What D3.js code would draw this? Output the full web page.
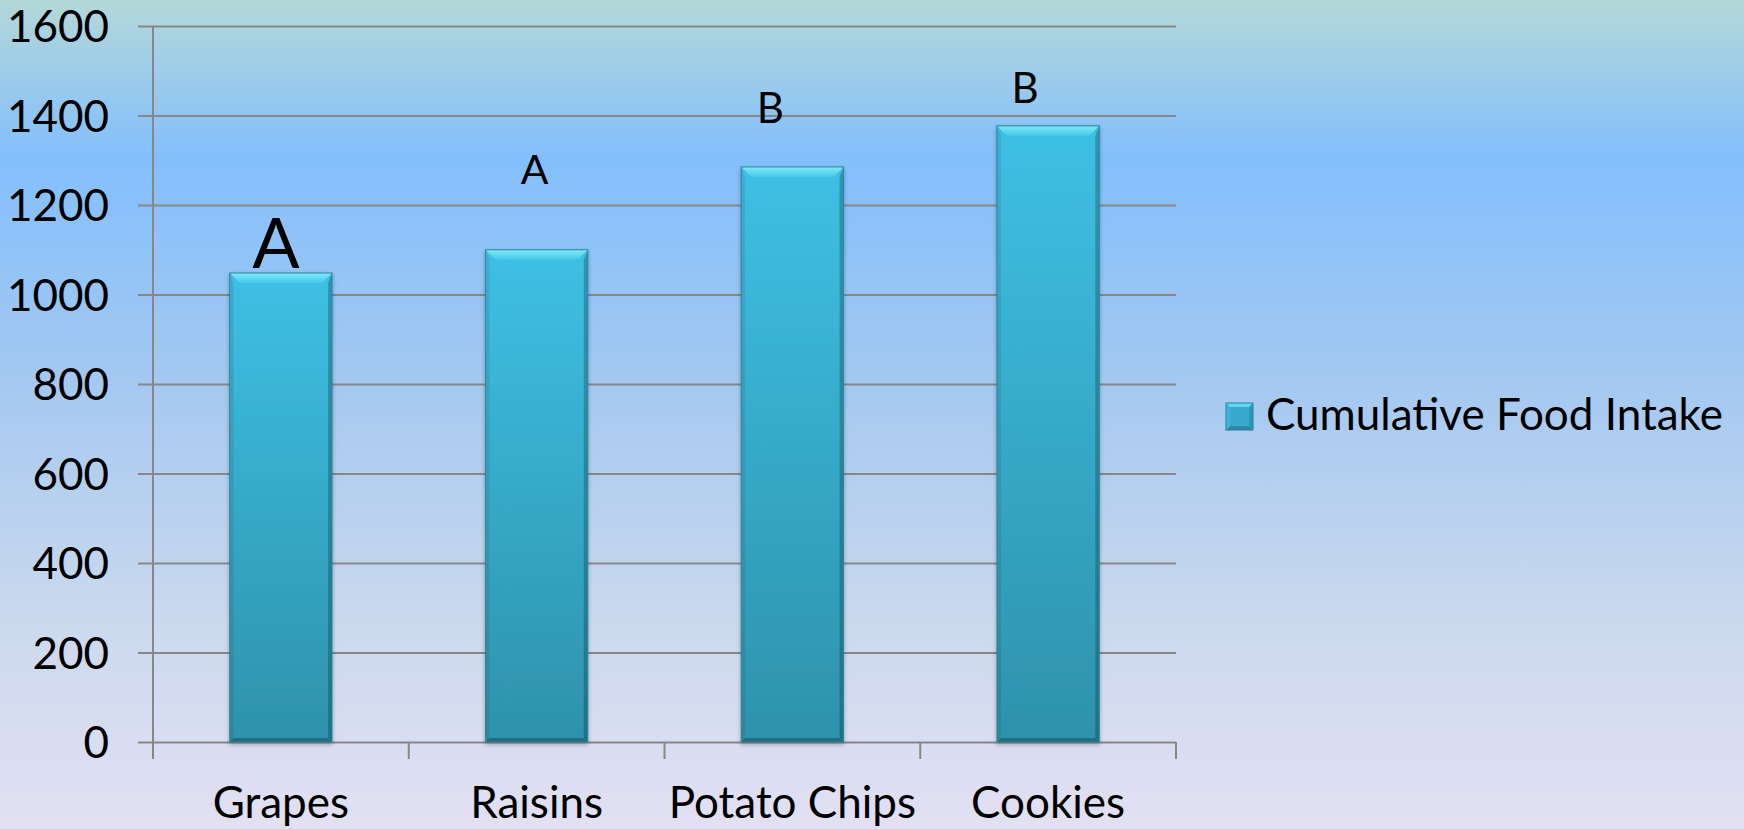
<!DOCTYPE html>
<html>
<head>
<meta charset="utf-8">
<script src="https://cdn.jsdelivr.net/npm/d3@7"></script>
<style>
  html, body { margin: 0; padding: 0; overflow: hidden; }
  svg { display: block; }
  text { font-family: Lato, "Open Sans", sans-serif; fill: #000; }
</style>
</head>
<body>
<svg id="chart" width="1744" height="829"></svg>
<script>
// Cumulative food intake by snack type
const categories = ["Grapes", "Raisins", "Potato Chips", "Cookies"];
const intake = [1048, 1100, 1285, 1377];
const groupLetters = ["A", "A", "B", "B"];
const yTicks = [0, 200, 400, 600, 800, 1000, 1200, 1400, 1600];
const seriesName = "Cumulative Food Intake";

// Hand placement of the significance letters, relative to each bar top
const letterDx = [-5, -2, -22, -23];
const letterRise = [5, 66, 44, 23];
const letterSize = [70, 41, 42, 42];

const W = 1744, H = 829;
const plot = { left: 153, right: 1176, top: 26, bottom: 742 };

const svg = d3.select("#chart");
const defs = svg.append("defs");

// Page background: teal at the top, bright blue, fading to lavender
const bg = defs.append("linearGradient").attr("id", "bg")
  .attr("x1", 0).attr("y1", 0).attr("x2", 0).attr("y2", 1);
[[0, "#b4d8d9"], [0.19, "#83bffd"], [0.45, "#a3c8f1"], [0.75, "#cbd9ee"], [1, "#e3e0f3"]]
  .forEach(([o, c]) => bg.append("stop").attr("offset", o).attr("stop-color", c));
svg.append("rect").attr("width", W).attr("height", H).attr("fill", "url(#bg)");

// Bar body and bevel fills
const body = defs.append("linearGradient").attr("id", "barBody")
  .attr("x1", 0).attr("y1", 0).attr("x2", 0).attr("y2", 1);
body.append("stop").attr("offset", 0).attr("stop-color", "#3ec0e4");
body.append("stop").attr("offset", 1).attr("stop-color", "#2e92ab");

const topFacet = defs.append("linearGradient").attr("id", "topFacet")
  .attr("x1", 0).attr("y1", 0).attr("x2", 0).attr("y2", 1);
topFacet.append("stop").attr("offset", 0).attr("stop-color", "#7debf7");
topFacet.append("stop").attr("offset", 1).attr("stop-color", "#48c8e8");

const shadow = defs.append("filter").attr("id", "barShadow")
  .attr("x", "-10%").attr("y", "-10%").attr("width", "120%").attr("height", "120%");
shadow.append("feDropShadow").attr("dx", 0).attr("dy", 2).attr("stdDeviation", 2)
  .attr("flood-color", "#000").attr("flood-opacity", 0.3);

const x = d3.scaleBand().domain(categories)
  .range([plot.left, plot.right]).paddingInner(0.6).paddingOuter(0.3);
const y = d3.scaleLinear().domain([0, 1600]).range([plot.bottom, plot.top]);

const gridColor = "#878787";

// Horizontal gridlines with outward ticks on the value axis
const grid = svg.append("g")
  .attr("transform", `translate(${plot.left},0)`)
  .call(d3.axisLeft(y).tickValues(yTicks).tickSize(-(plot.right - plot.left)).tickFormat(""));
grid.select(".domain").remove();
grid.selectAll(".tick line").attr("stroke", gridColor).attr("stroke-width", 2)
  .attr("x1", -15).attr("x2", plot.right - plot.left);

// Value axis line
svg.append("line")
  .attr("x1", plot.left).attr("x2", plot.left)
  .attr("y1", plot.top).attr("y2", plot.bottom + 17)
  .attr("stroke", gridColor).attr("stroke-width", 2);

// Category axis ticks sit on band boundaries
const step = x.step();
const boundaries = d3.range(categories.length + 1).map(i => plot.left + i * step);
svg.append("g").selectAll("line").data(boundaries).join("line")
  .attr("x1", d => d).attr("x2", d => d)
  .attr("y1", plot.bottom).attr("y2", plot.bottom + 17)
  .attr("stroke", gridColor).attr("stroke-width", 2);

// Value labels
svg.append("g").selectAll("text").data(yTicks).join("text")
  .attr("x", 109).attr("y", d => y(d) + 16)
  .attr("text-anchor", "end").attr("font-size", 44)
  .text(d => d);

// Category labels
svg.append("g").selectAll("text").data(categories).join("text")
  .attr("x", d => x(d) + x.bandwidth() / 2).attr("y", 818)
  .attr("text-anchor", "middle").attr("font-size", 44)
  .text(d => d);

// Bevelled bar drawing
function bevelBar(g, x0, y0, w, h, b, s) {
  const x1 = x0 + w, y1 = y0 + h;
  g.append("rect").attr("x", x0).attr("y", y0).attr("width", w).attr("height", h)
    .attr("fill", "url(#barBody)");
  // left facet
  g.append("polygon")
    .attr("points", [[x0, y0], [x0 + s, y0 + b], [x0 + s, y1 - s], [x0, y1]].join(" "))
    .attr("fill", "#000").attr("fill-opacity", 0.08);
  // right facet
  g.append("polygon")
    .attr("points", [[x1, y0], [x1 - s, y0 + b], [x1 - s, y1 - s], [x1, y1]].join(" "))
    .attr("fill", "#000").attr("fill-opacity", 0.22);
  // bottom facet
  g.append("polygon")
    .attr("points", [[x0, y1], [x0 + s, y1 - s], [x1 - s, y1 - s], [x1, y1]].join(" "))
    .attr("fill", "#000").attr("fill-opacity", 0.25);
  // top facet
  g.append("polygon")
    .attr("points", [[x0, y0], [x1, y0], [x1 - b, y0 + b], [x0 + b, y0 + b]].join(" "))
    .attr("fill", "url(#topFacet)");
  g.append("rect").attr("x", x0).attr("y", y0).attr("width", w).attr("height", h)
    .attr("fill", "none").attr("stroke", "#2a7f99").attr("stroke-width", 1.2)
    .attr("stroke-opacity", 0.8);
}

const bars = svg.append("g");
categories.forEach((c, i) => {
  const g = bars.append("g").attr("filter", "url(#barShadow)");
  bevelBar(g, x(c), y(intake[i]), x.bandwidth(), y(0) - y(intake[i]), 10, 4);
});

// Significance letters
svg.append("g").selectAll("text").data(categories).join("text")
  .attr("x", (d, i) => x(d) + x.bandwidth() / 2 + letterDx[i])
  .attr("y", (d, i) => y(intake[i]) - letterRise[i])
  .attr("text-anchor", "middle")
  .attr("font-size", (d, i) => letterSize[i])
  .text((d, i) => groupLetters[i]);

// Legend
const legend = svg.append("g").attr("transform", "translate(1226,403)");
const swatch = legend.append("g");
const sw = 27;
swatch.append("polygon").attr("points", [[0, 0], [sw, 0], [sw / 2, sw / 2]].join(" ")).attr("fill", "#5fd8f0");
swatch.append("polygon").attr("points", [[0, 0], [sw / 2, sw / 2], [0, sw]].join(" ")).attr("fill", "#3cb6d8");
swatch.append("polygon").attr("points", [[sw, 0], [sw / 2, sw / 2], [sw, sw]].join(" ")).attr("fill", "#2f97b4");
swatch.append("polygon").attr("points", [[0, sw], [sw / 2, sw / 2], [sw, sw]].join(" ")).attr("fill", "#2b88a3");
swatch.append("rect").attr("x", 4).attr("y", 4).attr("width", sw - 8).attr("height", sw - 8).attr("fill", "#38aacb");
swatch.append("rect").attr("width", sw).attr("height", sw).attr("fill", "none")
  .attr("stroke", "#2a7f99").attr("stroke-width", 1);
legend.append("text").attr("x", 40).attr("y", 27).attr("font-size", 44).text(seriesName);
</script>
</body>
</html>
